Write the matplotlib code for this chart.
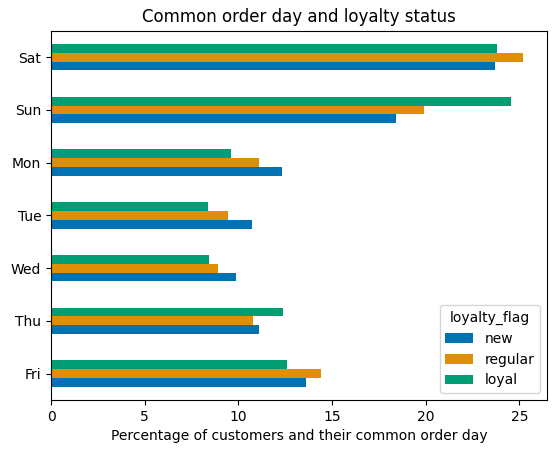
import matplotlib
matplotlib.use("Agg")
import matplotlib.pyplot as plt
import pandas as pd

# order day vs loyalty flag, percent of customers in each flag group
days = ["Fri", "Thu", "Wed", "Tue", "Mon", "Sun", "Sat"]
new = [13.6, 11.1, 9.9, 10.75, 12.35, 18.4, 23.7]
regular = [14.4, 10.8, 8.9, 9.47, 11.1, 19.9, 25.2]
loyal = [12.6, 12.4, 8.45, 8.4, 9.6, 24.55, 23.8]

df = pd.DataFrame({"new": new, "regular": regular, "loyal": loyal}, index=days)
df.columns.name = "loyalty_flag"

colors = ["#0173b2", "#de8f05", "#029e73"]

fig, ax = plt.subplots(figsize=(5.55, 4.53), dpi=100)
df.plot.barh(ax=ax, color=colors)
ax.set_title("Common order day and loyalty status")
ax.set_xlabel("Percentage of customers and their common order day")
ax.set_ylabel("")
ax.legend(title="loyalty_flag", loc="lower right")
fig.subplots_adjust(left=0.092, right=0.985, top=0.932, bottom=0.117)
fig.savefig("out.png", dpi=100)
